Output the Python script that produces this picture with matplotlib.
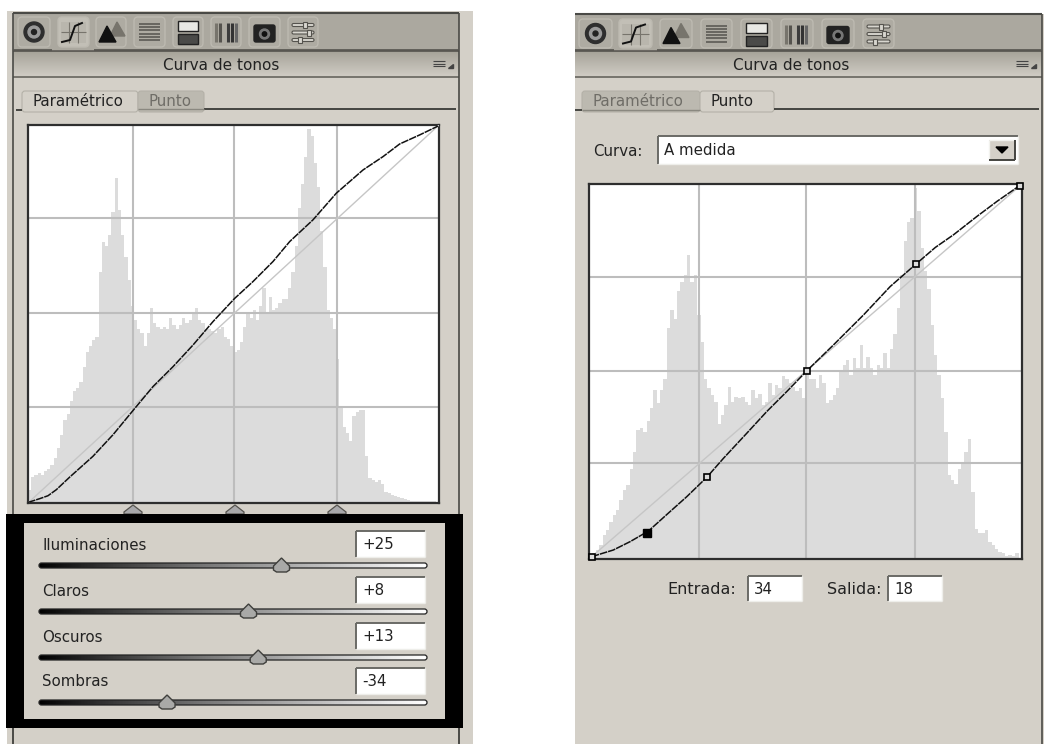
import numpy as np
import matplotlib
matplotlib.use("Agg")
import matplotlib.pyplot as plt
from matplotlib.patches import Rectangle, Polygon, FancyBboxPatch, Circle

# ---------- data ----------
hist_parametric = [3.5,7,7.5,8,7.5,8.5,9,10,12,14.5,18,22,23.5,27,29.5,30.5,32,36,40,41.5,43,44,61,69,68,71,77,86,77.5,71,65,59,
    52,48.5,46,45,41.5,45,51.5,47.5,46.5,46,46.5,46,49,47,46,47,49,47.5,48.5,50.5,51.5,48.5,47.5,46,46,45.5,45,46,46.5,44,43.5,41.5,
    40,40.5,42.5,46.5,50,49,51,48.5,52,57,50.5,54.5,51,51.5,53,54,54,57,61,68,78,84.5,91.5,99,97,90,83.5,72,62.5,51,49,46,
    38,25.5,20,18.5,16.5,23,24,24.5,24.5,12.5,6.5,6,5.5,6,5,3,2.7,2.2,1.8,1.5,1.2,1,.7,.5,.5,.5,.6,.6,.6,.5,.4,.3]
hist_point = [.6,1.5,2.4,3.7,6.4,7.7,10,11.7,13,15.7,18.4,19.8,24,28.6,34.4,34.9,34,36.7,40.2,45,41.5,45,48,61.6,66.5,64,71.4,74,75.8,81,74,75.8,
    65,58,48,45.5,43.8,42,36,38.4,41,46,42,43.3,42.9,43.3,42,41,45,43,44,41,42,47,43.8,46.4,45.5,48.7,48,46.9,46,44.7,45.5,43,
    50,48,48,45.5,49,47,41.5,42.4,43.8,45.5,50,51.8,53,49,53.6,51,57,51,54,51,49,51.8,51,55,51,56,60,67,75.8,84.7,90,91,
    99,92.7,83,76.7,72,62.5,54.4,49,43,34,22.4,21,20,24,26,28.6,32,18,8,6.9,6.9,7.7,4.6,3.7,2.8,2,1.5,.9,1,.9,1.5,.4]
curve_param_in  = [0,7.2,12.4,17.6,25.9,40.3,52.7,64.7,77.6,90,102.4,114.8,128.2,139.6,152,162.4,176.8,191.3,207.9,220.3,230.6,243,254.4]
curve_param_out = [.4,2.9,4.9,9,17.5,31.5,46,61.8,78.6,92,106.6,122.4,138,149.4,162.9,176.4,191,209,224.7,233.7,242.2,248.3,254.3]
curve_point_in  = [1.6,14.3,24.2,35,47.7,57.6,69.4,79.2,92.9,104.7,116.5,128.3,144,161.7,177.4,192.5,204,214.7,228.5,240.3,253.6]
curve_point_out = [1.6,6.1,11.8,19,32.2,42.4,55.6,68.5,85.5,100.3,113.9,128,145.6,166,185.3,200.5,211.9,220.5,233,243.2,253.9]
handles_in  = [1.6,69.4,128.3,192.5,253.6]
handles_out = [1.6,55.6,128,200.5,253.9]
active_in, active_out = 34, 18
grid_levels = [65,128,192]
slider_labels = ["Iluminaciones","Claros","Oscuros","Sombras"]
slider_values = [25,8,13,-34]
tab_labels = ["Paramétrico","Punto"]
panel_title = "Curva de tonos"
curve_label, curve_choice = "Curva:", "A medida"
entry_labels = ["Entrada:","Salida:"]
entry_values = [34,18]

W, H = 1044, 744
BG = "#d4d0c8"; DARK = "#3a3a36"; TXT = "#222222"
plt.rcParams['font.family'] = ['DejaVu Sans']
FS = 10.8

fig = plt.figure(figsize=(W/100, H/100), dpi=100, facecolor="white")
ui = fig.add_axes([0,0,1,1]); ui.set_xlim(0,W); ui.set_ylim(H,0); ui.axis("off")

def rect(x0,y0,x1,y1,c,z=1,**k):
    ui.add_patch(Rectangle((x0,y0),x1-x0,y1-y0,facecolor=c,edgecolor="none",zorder=z,**k))
def line(x0,y0,x1,y1,c=DARK,lw=1.2,z=3):
    ui.plot([x0,x1],[y0,y1],color=c,lw=lw,zorder=z,solid_capstyle="butt")
def vgrad(x0,y0,x1,y1,c0,c1,z=2):
    a=np.array(matplotlib.colors.to_rgb(c0)); b=np.array(matplotlib.colors.to_rgb(c1))
    t=np.linspace(0,1,32)[:,None,None]
    ui.imshow(a[None,None,:]*(1-t)+b[None,None,:]*t,extent=(x0,x1,y1,y0),aspect="auto",zorder=z,interpolation="bilinear")

def icons(xs,y0,y1):
    for i,(a,b) in enumerate(xs):
        ui.add_patch(FancyBboxPatch((a+1,y0+1),b-a-2,y1-y0-2,boxstyle="round,pad=0,rounding_size=4",
                     facecolor="#c2bfb6" if i==1 else "#aeaba2",edgecolor="#bdbab1",lw=1,zorder=3))
        cx,cy=(a+b)/2,(y0+y1)/2
        if i==0:
            ui.add_patch(Circle((cx,cy),10,color="#2e2e2e",zorder=4)); ui.add_patch(Circle((cx,cy),6,color="#9a9a9a",zorder=4)); ui.add_patch(Circle((cx,cy),2.5,color="#222222",zorder=4))
        elif i==1:
            rect(a+4,cy-10,b-4,cy+11,"#b9b6ad",4)
            for f in (.33,.66): line(a+4+(b-a-8)*f,cy-10,a+4+(b-a-8)*f,cy+11,"#77746c",.8,5)
            line(a+4,cy,b-4,cy,"#77746c",.8,5)
            ui.plot([a+5,a+13,a+18,b-8],[cy+10,cy+8,cy-6,cy-9],color="#111111",lw=1.4,zorder=6)
        elif i==2:
            ui.add_patch(Polygon([[a+4,cy+10],[a+12,cy-6],[a+21,cy+10]],color="#111111",zorder=5))
            ui.add_patch(Polygon([[a+15,cy+4],[a+22,cy-10],[a+30,cy+4]],color="#77746c",zorder=4))
        elif i==3:
            for k in range(6): line(a+6,cy-8+k*3.2,b-6,cy-8+k*3.2,"#55534e",1.1,5)
        elif i==4:
            rect(a+6,cy-11,b-6,cy-1,"#e8e8e4",4); rect(a+6,cy+2,b-6,cy+12,"#4a4a48",4)
            ui.add_patch(Rectangle((a+6,cy-11),b-a-12,10,fill=False,edgecolor="#222222",lw=1,zorder=5))
            ui.add_patch(Rectangle((a+6,cy+2),b-a-12,10,fill=False,edgecolor="#222222",lw=1,zorder=5))
        elif i==5:
            for k,(off,c) in enumerate([(6,"#77746c"),(10,"#55534e"),(18,"#3c3c3c"),(22,"#333333"),(26,"#666666")]):
                line(a+off,cy-9,a+off,cy+10,c,2.2,5)
        elif i==6:
            ui.add_patch(FancyBboxPatch((a+6,cy-7),b-a-12,17,boxstyle="round,pad=0,rounding_size=2",color="#222222",zorder=4))
            ui.add_patch(Circle((cx,cy+2),5,color="#777777",zorder=5)); ui.add_patch(Circle((cx,cy+2),2.2,color="#111111",zorder=6))
        else:
            for k,f in enumerate((.6,.75,.35)):
                yy=cy-7+k*7.5
                ui.add_patch(FancyBboxPatch((a+5,yy-1.5),b-a-10,3,boxstyle="round,pad=0,rounding_size=1.5",facecolor="#d8d6cf",edgecolor="#55534e",lw=.8,zorder=4))
                ui.add_patch(Rectangle((a+5+(b-a-10)*f-2,yy-3),4,6,facecolor="#d8d6cf",edgecolor="#55534e",lw=.8,zorder=5))

def panel(x0,x1,ytop,title_x,menu_x,bg0,bg1,left_border):
    rect(bg0,ytop-2 if left_border else ytop,bg1,H,BG,1)
    rect(x0,ytop,x1,50,"#aba89f",2)
    line(x0,ytop,x1,ytop,"#4a4a46",1.5)
    vgrad(x0,51,x1,76,"#a6a399","#cfcbc3")
    line(x0,51,x1,51,"#55534e",1.2); line(x0,77,x1,77,"#66645e",1.2)
    if left_border: line(x0,ytop,x0,H,"#4a4a46",1.2)
    line(x1,ytop,x1,H,"#4a4a46",1.2)
    ui.text(title_x,65,panel_title,ha="center",va="center",fontsize=FS+.2,color=TXT,zorder=6)
    for k in range(3): line(menu_x,61+k*2.5,menu_x+12,61+k*2.5,"#444444",.8,6)
    ui.add_patch(Polygon([[menu_x+15,68],[menu_x+20,68],[menu_x+20,64]],color="#444444",zorder=6))

def tabs(active, x_a0,x_a1,x_b0,x_b1,x_end,x0,y0=91,y1=110):
    for i,(a,b) in enumerate([(x_a0,x_a1),(x_b0,x_b1)]):
        on = i==active
        ui.add_patch(FancyBboxPatch((a,y0),b-a,y1-y0+2,boxstyle="round,pad=0,rounding_size=3",
                     facecolor=BG if on else "#bcb9b0",edgecolor="#b4b1a8",lw=.8,zorder=3))
        ui.text(a+10,y0+10.5,tab_labels[i],va="center",fontsize=FS,color=TXT if on else "#6f6d67",zorder=6)
    line(x0,y1,min(x_a0,x_b0),y1,DARK,1.3,5); line(x_b1,y1-1,x_end,y1-1,DARK,1.3,5)
    if active==0: line(x_b0,y1-1,x_b1,y1-1,"#8a8880",1,5)
    else: line(x_a0,y1,x_a1,y1,"#8a8880",1,5)

def entry(x0,y0,x1,y1,s,fs=FS):
    rect(x0,y0,x1,y1,"white",6)
    line(x0,y0,x1,y0,"#6a6a66",1.4,7); line(x0,y0,x0,y1,"#6a6a66",1.4,7)
    line(x0,y1,x1,y1,"#eeeeea",1,7); line(x1,y0,x1,y1,"#eeeeea",1,7)
    ui.text(x0+6,(y0+y1)/2+.5,s,va="center",fontsize=fs,color=TXT,zorder=8)

def plot(box,hist,cin,cout):
    x0,y0,x1,y1=box
    ax=fig.add_axes([x0/W,1-y1/H,(x1-x0)/W,(y1-y0)/H],zorder=5)
    ax.set_xlim(0,255); ax.set_ylim(0,255); ax.set_xticks([]); ax.set_yticks([])
    edges=np.linspace(0,255,len(hist)+1)
    ax.stairs(np.array(hist)*2.55,edges,fill=True,color="#dcdcdc",zorder=1)
    for g in grid_levels:
        ax.axvline(g,color="#bdbdbd",lw=1.5,zorder=2); ax.axhline(g,color="#bdbdbd",lw=1.5,zorder=2)
    ax.plot([0,255],[0,255],color="#c6c6c6",lw=1,zorder=3)
    ax.plot(cin,cout,color="#111111",lw=1.1,zorder=4,dashes=(5,.6),clip_on=False)
    for s in ax.spines.values():
        s.set_color("#2e2e2e"); s.set_linewidth(1.6)
    return ax

# ---------- left panel ----------
panel(13,459,13,221,433,7,473,True)
icons([(17,51),(57,90),(95,127),(133,166),(172,204),(210,242),(248,281),(287,319)],16,48)
line(13,50,52,50,"#55534e",1.2); line(94,50,459,50,"#55534e",1.2)
tabs(0,22,138,138,204,456,16)
plot((28,125,439,503),hist_parametric,curve_param_in,curve_param_out)
for x in (133,235,337):
    ui.add_patch(Polygon([[x-9,514],[x-9,512],[x,505],[x+9,512],[x+9,514]],facecolor="#a8a8aa",edgecolor="#55534e",lw=.9,zorder=3))
rect(6,514,463,728,"black",4)
rect(24,523,445,719,BG,5)
ys=[545,591,637,682]
grad=np.linspace(0,1,256)[None,:]
for lab,val,y in zip(slider_labels,slider_values,ys):
    ui.text(42,y,lab,va="center",fontsize=FS,color=TXT,zorder=8)
    s=f"{val:+d}"
    entry(356,y-14,425,y+12,s)
    tr=ui.imshow(grad**.9,cmap="gray",vmin=0,vmax=1,extent=(39,427,y+23,y+18),aspect="auto",zorder=6,interpolation="bilinear")
    clip=FancyBboxPatch((39,y+18),388,5,boxstyle="round,pad=0,rounding_size=2.5",facecolor="none",edgecolor="#222222",lw=.9,zorder=7)
    ui.add_patch(clip); tr.set_clip_path(clip)
    tx=39+388*(val+100)/200
    ui.add_patch(Polygon([[tx-8,y+21],[tx,y+13],[tx+8,y+21],[tx+8,y+25],[tx+5,y+27],[tx-5,y+27],[tx-8,y+25]],
                 facecolor="#a9a9a7",edgecolor="#3f3f3c",lw=1,zorder=8))
line(13,728,13,H,"#4a4a46",1.2,5); line(459,728,459,H,"#4a4a46",1.2,5)

# ---------- right panel ----------
panel(575,1042,14,791,1016,575,1044,False)
icons([(578,613),(618,653),(659,693),(700,733),(740,773),(780,814),(821,855),(862,895)],18,49)
line(575,50,614,50,"#55534e",1.2); line(657,50,1042,50,"#55534e",1.2)
tabs(1,582,700,700,774,1039,575)
ui.text(593,152,curve_label,va="center",fontsize=FS,color=TXT,zorder=6)
entry(658,136,1018,164,curve_choice)
rect(989,140,1015,160,BG,8)
line(989,140,1015,140,"#f2f2ee",1,9); line(989,140,989,160,"#f2f2ee",1,9)
line(989,160,1015,160,"#444440",1.4,9); line(1015,140,1015,160,"#444440",1.4,9)
ui.add_patch(Polygon([[996,147],[1008,147],[1002,153]],color="black",zorder=9))
axr=plot((589,184,1022,559),hist_point,curve_point_in,curve_point_out)
axr.plot(handles_in,handles_out,ls="none",marker="s",ms=5,mfc="#dddddd",mec="black",mew=1.2,zorder=6,clip_on=False)
axr.plot([active_in],[active_out],ls="none",marker="s",ms=5.5,mfc="black",mec="black",zorder=6)
ui.text(667,589,entry_labels[0],va="center",fontsize=FS+.7,color=TXT,zorder=6)
ui.text(827,589,entry_labels[1],va="center",fontsize=FS+.7,color=TXT,zorder=6)
entry(748,576,802,601,str(entry_values[0]))
entry(888,576,942,601,str(entry_values[1]))

ui.set_xlim(0,W); ui.set_ylim(H,0)
fig.savefig("out.png",dpi=100,facecolor="white")
